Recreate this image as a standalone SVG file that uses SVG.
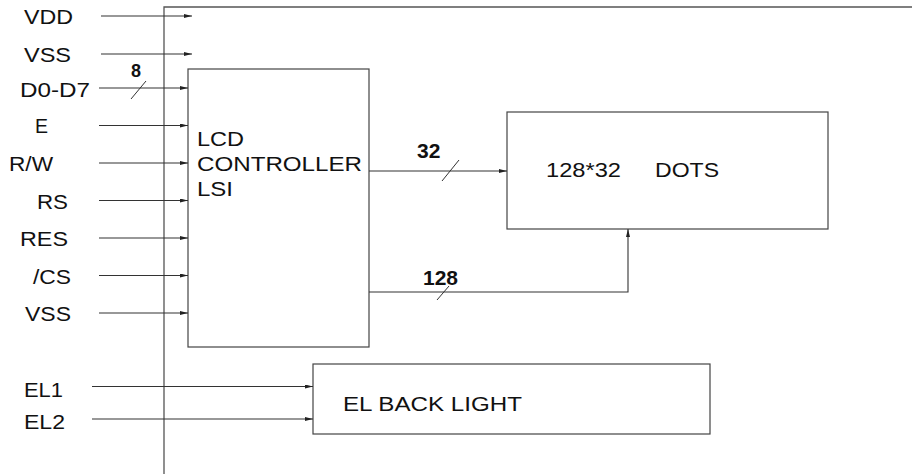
<svg xmlns="http://www.w3.org/2000/svg" width="912" height="474" viewBox="0 0 912 474">
<style>
text{font-family:"Liberation Sans",Arial,sans-serif;fill:#111}
.lb{font-size:19.5px}
.num{font-size:21px;font-weight:bold}
.frame{fill:none;stroke:#555;stroke-width:1.3}
.box{fill:#fff;stroke:#444;stroke-width:1.2}
.w{fill:none;stroke:#333;stroke-width:1.1}
.sl{fill:none;stroke:#333;stroke-width:1}
</style>
<defs>
<marker id="ar" viewBox="0 0 8 4" refX="8" refY="2" markerWidth="8" markerHeight="4" markerUnits="userSpaceOnUse" orient="auto">
<path d="M0,0 L8,2 L0,4 Z" fill="#222"/>
</marker>
</defs>
<g id="frame">
<path class="frame" d="M164,474 V7 H912"/>
</g>
<g id="controller">
<rect class="box" x="188" y="69" width="181" height="278"/>
<text class="lb" x="197" y="146" textLength="47" lengthAdjust="spacingAndGlyphs">LCD</text>
<text class="lb" x="197" y="171" textLength="165" lengthAdjust="spacingAndGlyphs">CONTROLLER</text>
<text class="lb" x="197" y="196" textLength="36" lengthAdjust="spacingAndGlyphs">LSI</text>
</g>
<g id="dots">
<rect class="box" x="507" y="112" width="321" height="117"/>
<text class="lb" x="546" y="177" textLength="75" lengthAdjust="spacingAndGlyphs">128*32</text>
<text class="lb" x="655" y="177" textLength="64" lengthAdjust="spacingAndGlyphs">DOTS</text>
</g>
<g id="backlight">
<rect class="box" x="313" y="364" width="397" height="70"/>
<text class="lb" x="343" y="411" textLength="179" lengthAdjust="spacingAndGlyphs">EL BACK LIGHT</text>
</g>
<g id="labels">
<text class="lb" x="24" y="24" textLength="49" lengthAdjust="spacingAndGlyphs">VDD</text>
<text class="lb" x="24" y="62" textLength="47" lengthAdjust="spacingAndGlyphs">VSS</text>
<text class="lb" x="20" y="97" textLength="70" lengthAdjust="spacingAndGlyphs">D0-D7</text>
<text class="lb" x="35" y="133">E</text>
<text class="lb" x="9" y="171" textLength="44" lengthAdjust="spacingAndGlyphs">R/W</text>
<text class="lb" x="37" y="209" textLength="31" lengthAdjust="spacingAndGlyphs">RS</text>
<text class="lb" x="20" y="246" textLength="48" lengthAdjust="spacingAndGlyphs">RES</text>
<text class="lb" x="33" y="284" textLength="38" lengthAdjust="spacingAndGlyphs">/CS</text>
<text class="lb" x="25" y="321" textLength="46" lengthAdjust="spacingAndGlyphs">VSS</text>
<text class="lb" x="24" y="397" textLength="39" lengthAdjust="spacingAndGlyphs">EL1</text>
<text class="lb" x="24" y="429" textLength="41" lengthAdjust="spacingAndGlyphs">EL2</text>
</g>
<g id="connectors">
<line class="w" x1="101" y1="16" x2="192" y2="16" marker-end="url(#ar)"/>
<line class="w" x1="101" y1="54" x2="192" y2="54" marker-end="url(#ar)"/>
<line class="w" x1="99" y1="88" x2="188" y2="88" marker-end="url(#ar)"/>
<line class="w" x1="99" y1="125.5" x2="188" y2="125.5" marker-end="url(#ar)"/>
<line class="w" x1="99" y1="163" x2="188" y2="163" marker-end="url(#ar)"/>
<line class="w" x1="99" y1="200.5" x2="188" y2="200.5" marker-end="url(#ar)"/>
<line class="w" x1="99" y1="238" x2="188" y2="238" marker-end="url(#ar)"/>
<line class="w" x1="99" y1="275.5" x2="188" y2="275.5" marker-end="url(#ar)"/>
<line class="w" x1="99" y1="313" x2="188" y2="313" marker-end="url(#ar)"/>
<line class="w" x1="92" y1="386.5" x2="313" y2="386.5" marker-end="url(#ar)"/>
<line class="w" x1="92" y1="419" x2="313" y2="419" marker-end="url(#ar)"/>
<line class="w" x1="369" y1="171" x2="507" y2="171" marker-end="url(#ar)"/>
<polyline class="w" points="369,292 628,292 628,229" marker-end="url(#ar)"/>
<line class="sl" x1="131" y1="99" x2="146" y2="81"/>
<line class="sl" x1="442" y1="181" x2="459" y2="160"/>
<line class="sl" x1="437" y1="300" x2="449" y2="286"/>
<text class="num" x="131" y="77" style="font-size:18px">8</text>
<text class="num" x="417" y="158">32</text>
<text class="num" x="423" y="285">128</text>
</g>
</svg>
